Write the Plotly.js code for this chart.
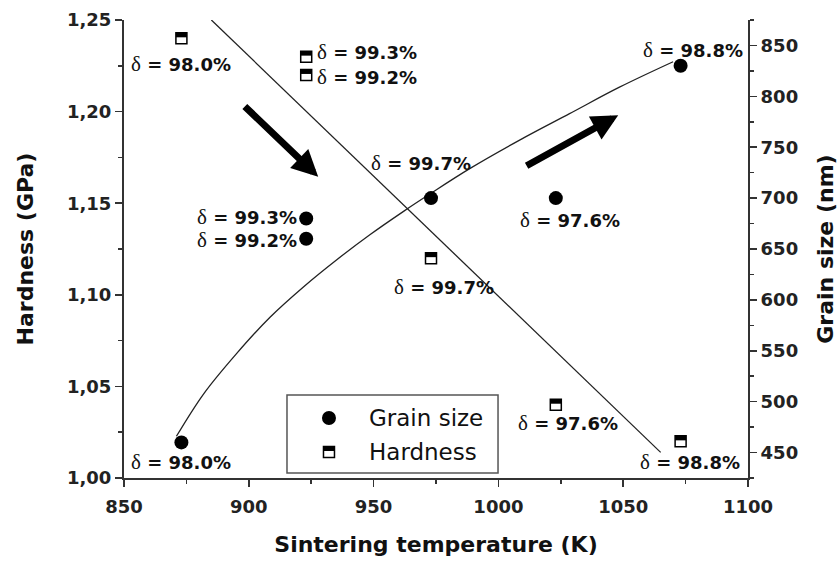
<!DOCTYPE html>
<html>
<head>
<meta charset="utf-8">
<script src="https://cdn.plot.ly/plotly-3.0.1.min.js"></script>
<style>html,body{margin:0;padding:0;background:#fff;}#chart{width:840px;height:565px;}</style>
</head>
<body>
<div id="chart"></div>
<script>
// ---- data ----
const tempGrain = [873, 923, 923, 973, 1023, 1073];
const grainSize = [460, 680, 660, 700, 700, 830];          // nm (right axis)
const tempHard  = [873, 923, 923, 973, 1023, 1073];
const hardness  = [1.24, 1.23, 1.22, 1.12, 1.04, 1.02];    // GPa (left axis)

// fitted curves as drawn in the reference
const grainFitX = [871, 882, 895, 908.5, 922, 935, 948.5, 962, 972.5, 988.5, 1008.5, 1028.5, 1048.5, 1070];
const grainFitY = [466, 508, 547, 583, 613, 639, 664, 687, 704, 729, 757, 783, 809, 834];
const hardFitX = [885, 1065];
const hardFitY = [1.25, 1.014];

// density labels (text positions in x / left-axis units)
const labelText = ['98.0%', '99.3%', '99.2%', '99.7%', '99.3%', '99.2%', '97.6%', '99.7%', '98.0%', '97.6%', '98.8%', '98.8%'];
const labelX    = [872.8, 947.4, 947.4, 969.0, 899.3, 899.3, 1028.7, 978.2, 872.8, 1027.9, 1076.8, 1078.0];
const labelY    = [1.226, 1.2325, 1.219, 1.172, 1.1425, 1.130, 1.1408, 1.104, 1.0087, 1.030, 1.0087, 1.2336];

// trend arrows: [tailX, tailY, headX, headY]
const arrowsData = [[897.8, 1.2036, 927.8, 1.1645], [1010.7, 1.170, 1048.0, 1.198]];

const xTitle = 'Sintering temperature (K)';
const yTitle = 'Hardness (GPa)';
const y2Title = 'Grain size (nm)';
const legendNames = ['Grain size', 'Hardness'];

// ---- styling ----
const FONT = 'DejaVu Sans, Liberation Sans, Arial, sans-serif';
const AX = '#333';
const tickFont = {family: FONT, size: 18, color: '#222', weight: 'bold'};
const titleFont = {family: FONT, size: 22, color: '#111', weight: 'bold'};

const traces = [
  {x: hardFitX, y: hardFitY, mode: 'lines', line: {color: '#222', width: 1.3}, yaxis: 'y', xaxis: 'x', showlegend: false, hoverinfo: 'skip'},
  {x: grainFitX, y: grainFitY, mode: 'lines', line: {color: '#222', width: 1.3, shape: 'spline'}, yaxis: 'y2', xaxis: 'x', showlegend: false, hoverinfo: 'skip'},
  {x: tempGrain, y: grainSize, mode: 'markers', name: legendNames[0], yaxis: 'y2', xaxis: 'x',
   marker: {symbol: 'circle', size: 14, color: '#000'}, showlegend: false, cliponaxis: false},
  {x: tempHard, y: hardness, mode: 'markers', name: legendNames[1], yaxis: 'y', xaxis: 'x',
   marker: {symbol: 'square', size: 11, color: '#fff', line: {color: '#000', width: 1.5}}, showlegend: false, cliponaxis: false}
];

// half-filled square tops anchored to the hardness points
const shapes = tempHard.map((t, i) => ({
  type: 'rect', xref: 'x', yref: 'y', xsizemode: 'pixel', ysizemode: 'pixel',
  xanchor: t, yanchor: hardness[i], x0: -5.5, x1: 5.5, y0: 1, y1: 5.5,
  fillcolor: '#000', line: {width: 0}, layer: 'above'
}));

// manual legend
const legBox = {x0: 0.2612, x1: 0.5994, y0: 0.011, y1: 0.1812};
const legSymX = 0.3285, legRowY = [0.131, 0.0568], legTextX = 0.3894;
shapes.push({type: 'rect', xref: 'paper', yref: 'paper', x0: legBox.x0, x1: legBox.x1, y0: legBox.y0, y1: legBox.y1,
  line: {color: '#555', width: 1.5}, fillcolor: '#fff', layer: 'above'});
shapes.push({type: 'circle', xref: 'paper', yref: 'paper', xsizemode: 'pixel', ysizemode: 'pixel',
  xanchor: legSymX, yanchor: legRowY[0], x0: -7, x1: 7, y0: -7, y1: 7, fillcolor: '#000', line: {width: 0}, layer: 'above'});
shapes.push({type: 'rect', xref: 'paper', yref: 'paper', xsizemode: 'pixel', ysizemode: 'pixel',
  xanchor: legSymX, yanchor: legRowY[1], x0: -5.5, x1: 5.5, y0: -5.5, y1: 5.5, fillcolor: '#fff', line: {color: '#000', width: 1.5}, layer: 'above'});
shapes.push({type: 'rect', xref: 'paper', yref: 'paper', xsizemode: 'pixel', ysizemode: 'pixel',
  xanchor: legSymX, yanchor: legRowY[1], x0: -5.5, x1: 5.5, y0: 1, y1: 5.5, fillcolor: '#000', line: {width: 0}, layer: 'above'});

const annotations = labelText.map((s, i) => ({
  x: labelX[i], y: labelY[i], xref: 'x', yref: 'y', showarrow: false, xanchor: 'center', yanchor: 'middle',
  text: '<span style="font-family:\'Liberation Serif\';font-weight:normal;font-size:21px">δ</span> = ' + s,
  font: {family: FONT, size: 18, color: '#111', weight: 'bold'}
}));
arrowsData.forEach(a => annotations.push({
  x: a[2], y: a[3], ax: a[0], ay: a[1], xref: 'x', yref: 'y', axref: 'x', ayref: 'y',
  text: '', showarrow: true, arrowhead: 2, arrowsize: 0.75, arrowwidth: 7, arrowcolor: '#000', standoff: 0
}));
legendNames.forEach((n, i) => annotations.push({
  x: legTextX, y: legRowY[i], xref: 'paper', yref: 'paper', xanchor: 'left', yanchor: 'middle', showarrow: false,
  text: n, font: {family: FONT, size: 23, color: '#111'}
}));

const layout = {
  width: 840, height: 565,
  margin: {l: 124, r: 92, t: 20, b: 87},
  paper_bgcolor: '#fff', plot_bgcolor: '#fff',
  separators: ',.',
  showlegend: false,
  xaxis: {
    range: [850, 1100], dtick: 50, tick0: 850, ticks: 'outside', ticklen: 7, tickwidth: 1.5, tickcolor: AX,
    minor: {dtick: 25, ticks: 'outside', ticklen: 4, tickwidth: 1.5, tickcolor: AX},
    showline: true, linecolor: AX, linewidth: 2, showgrid: false, zeroline: false, ticklabelstandoff: 4,
    tickfont: tickFont, title: {text: xTitle, font: titleFont, standoff: 21}, automargin: false
  },
  xaxis2: {
    overlaying: 'x', side: 'top', anchor: 'y', range: [850, 1100], dtick: 50, tick0: 850, ticks: 'inside', ticklen: 7, tickwidth: 1.5, tickcolor: AX,
    minor: {dtick: 25, ticks: 'inside', ticklen: 4, tickwidth: 1.5, tickcolor: AX},
    showline: true, linecolor: AX, linewidth: 2, showgrid: false, zeroline: false, showticklabels: false
  },
  yaxis: {
    range: [1.0, 1.25], dtick: 0.05, tick0: 1.0, tickformat: '.2f', ticks: 'outside', ticklen: 7, tickwidth: 1.5, tickcolor: AX,
    minor: {dtick: 0.025, ticks: 'outside', ticklen: 4, tickwidth: 1.5, tickcolor: AX},
    showline: true, linecolor: AX, linewidth: 2, showgrid: false, zeroline: false,
    tickfont: tickFont, title: {text: yTitle, font: titleFont, standoff: 27}, automargin: false
  },
  yaxis2: {
    overlaying: 'y', side: 'right', anchor: 'x', range: [425, 875], dtick: 50, tick0: 450, ticks: 'outside', ticklen: 7, tickwidth: 1.5, tickcolor: AX,
    minor: {dtick: 25, ticks: 'outside', ticklen: 4, tickwidth: 1.5, tickcolor: AX},
    showline: true, linecolor: AX, linewidth: 2, showgrid: false, zeroline: false,
    tickfont: tickFont, title: {text: y2Title, font: titleFont, standoff: 20}, automargin: false
  },
  shapes: shapes,
  annotations: annotations
};

Plotly.newPlot('chart', traces, layout, {displayModeBar: false, staticPlot: true});
</script>
</body>
</html>
